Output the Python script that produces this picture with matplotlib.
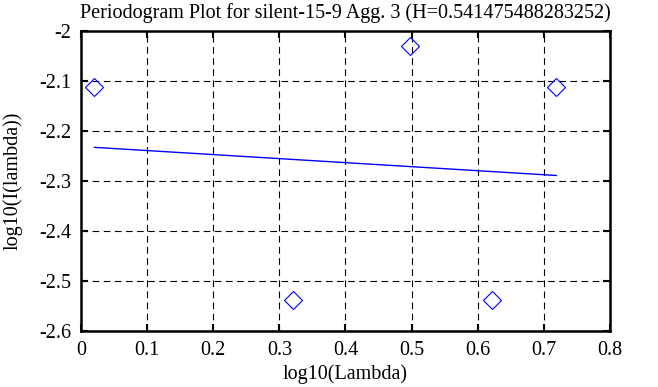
import numpy as np
import matplotlib.pyplot as plt

# periodogram points (log10 lambda, log10 I(lambda))
log_lambda = [0.0203, 0.3206, 0.4971, 0.6221, 0.7190]
log_I = [-2.113, -2.538, -2.030, -2.538, -2.113]

# least squares fit line
fit_x = [0.0203, 0.7190]
fit_y = [-2.2327, -2.2890]

H = 0.541475488283252

plt.rcParams['font.family'] = ['Liberation Serif', 'DejaVu Serif']

fig = plt.figure(figsize=(6.58, 3.87), dpi=100)
ax = fig.add_axes([0.1231, 0.1447, 0.8039, 0.7752])

ax.plot(log_lambda, log_I, 'D', mfc='none', mec='blue', ms=9, mew=0.8)
ax.plot(fit_x, fit_y, color='blue', lw=1)

ax.set_xlim(0, 0.8)
ax.set_ylim(-2.6, -2)
ax.set_xticks(np.arange(0, 0.81, 0.1))
ax.set_xticklabels(['0', '0.1', '0.2', '0.3', '0.4', '0.5', '0.6', '0.7', '0.8'])
ax.set_yticks(np.arange(-2.6, -1.99, 0.1))
ax.set_yticklabels(['-2.6', '-2.5', '-2.4', '-2.3', '-2.2', '-2.1', '-2'])

ax.grid(True, color='black', ls=(0, (6, 4)), lw=0.8)
ax.tick_params(direction='in', length=5, width=1.5, top=True, right=True,
               labelsize=14.5, pad=7)
for s in ax.spines.values():
    s.set_linewidth(1.8)

ax.set_xlabel('log10(Lambda)', fontsize=14.5, labelpad=3)
ax.set_ylabel('log10(I(lambda))', fontsize=14.5, labelpad=12)
ax.set_title('Periodogram Plot for silent-15-9 Agg. 3 (H=%s)' % repr(H),
             fontsize=14.5, pad=9)

fig.savefig('out.png', dpi=100)
